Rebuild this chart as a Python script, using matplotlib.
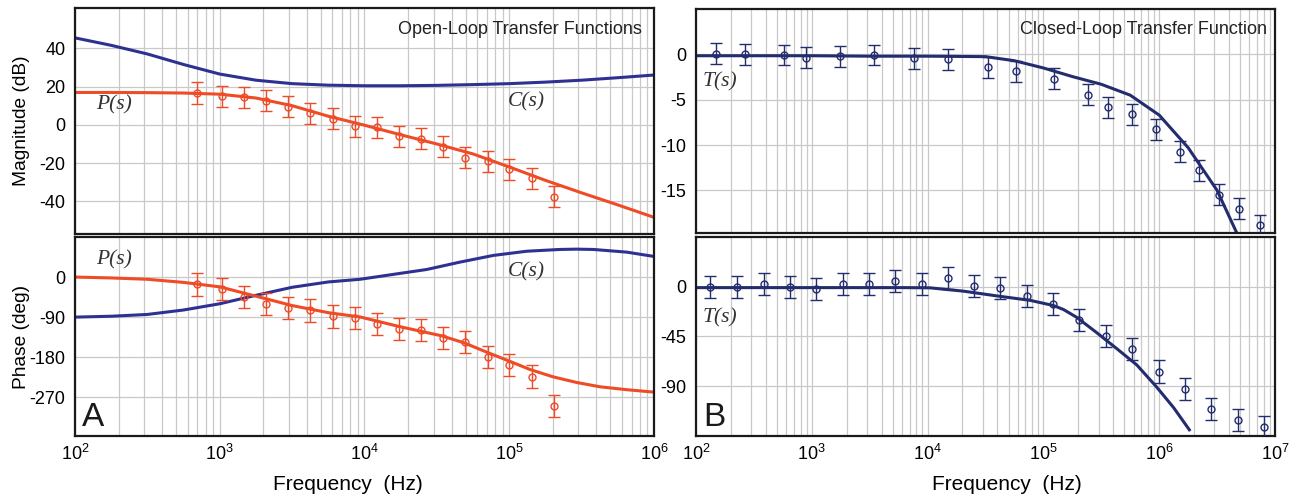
import matplotlib
matplotlib.use("Agg")
import matplotlib.pyplot as plt
from matplotlib.ticker import LogLocator, FixedLocator, NullFormatter
import numpy as np

plt.rcParams['font.family'] = ['Liberation Sans', 'DejaVu Sans']
plt.rcParams['mathtext.fontset'] = 'custom'
plt.rcParams['mathtext.rm'] = 'Liberation Sans'
plt.rcParams['axes.unicode_minus'] = False

RED = '#ee4b26'
BLUE = '#2e3192'
NAVY = '#232d6e'

# ---- Panel A: open-loop curves (samples)
f_mag_a = [1e2, 1.78e2, 3.16e2, 5.62e2, 1e3, 1.78e3, 3.16e3, 5.62e3, 1e4,
           1.78e4, 3.16e4, 5.62e4, 1e5, 1.78e5, 3.16e5, 5.62e5, 1e6]
p_mag = [16.9, 16.9, 16.8, 16.6, 16.0, 14.0, 10.0, 4.5, -0.2,
         -5.2, -10.0, -15.2, -22.0, -29.0, -35.5, -41.8, -48.3]
c_mag = [45.4, 41.5, 37.0, 31.5, 26.5, 23.3, 21.5, 20.7, 20.4,
         20.4, 20.6, 21.0, 21.5, 22.3, 23.3, 24.6, 26.0]

f_pph = [1e2, 1.78e2, 3.16e2, 5.62e2, 1e3, 1.78e3, 3.16e3, 5.62e3, 9.31e3,
         1.71e4, 3.41e4, 4.9e4, 6.9e4, 9.86e4, 1.39e5, 2e5, 2.92e5, 4.24e5,
         6.47e5, 1e6]
p_phase = [0, -2, -5, -12, -22, -43, -64, -80, -89.6, -110.6, -132, -148,
           -168, -188, -207.6, -224, -236.8, -246.5, -253, -258.5]
f_cph = [1e2, 1.78e2, 3.16e2, 5.62e2, 1e3, 1.78e3, 3.16e3, 5.62e3, 9.31e3,
         1.58e4, 2.69e4, 4.57e4, 7.76e4, 1.32e5, 2.24e5, 2.92e5, 3.81e5,
         6.47e5, 1e6]
c_phase = [-90, -88, -84, -74, -60, -41, -23, -11, -5, 6, 17, 33.6, 48.6,
           58, 62, 62.7, 62, 56, 46.3]

# measured plant points
f_meas_a = [693, 1030, 1470, 2090, 2980, 4230, 6040, 8630, 12250, 17230,
            24430, 34670, 49520, 70770, 100300, 143300, 203300]
p_mag_meas = [16.6, 14.8, 14.4, 12.6, 9.4, 6.1, 3.1, -0.7, -1.3, -5.9,
              -7.2, -11.4, -17.1, -19.1, -23.1, -27.9, -37.5]
p_mag_err = 5.5
p_ph_meas = [-16.5, -26, -45, -60, -69, -75, -88.5, -91.5, -105, -117,
             -118.5, -136.5, -146, -180, -197, -223.5, -290]
p_ph_err = 25

# ---- Panel B: closed-loop
f_curve_bm = [1e2, 3.16e2, 1e3, 3.16e3, 1e4, 3.16e4, 5.62e4, 1e5, 1.78e5,
              3.16e5, 5.62e5, 1e6, 1.78e6, 3.16e6, 5e6]
t_mag = [-0.15, -0.15, -0.15, -0.2, -0.2, -0.25, -0.7, -1.5, -2.45,
         -3.3, -4.5, -6.7, -10.3, -15.0, -20.5]
f_curve_bp = [1e2, 1e3, 6.3e3, 1.05e4, 2.04e4, 3.96e4, 7.67e4, 1.22e5,
              1.49e5, 1.94e5, 2.89e5, 4.3e5, 6.41e5, 9.53e5, 1.33e6, 1.82e6]
t_phase = [-0.8, -0.8, -0.8, -1.0, -4.0, -8.3, -12.3, -17, -20.6, -27.7,
           -41.6, -56, -70.8, -90.9, -109.3, -129.4]

f_meas_bm = [149, 266, 570, 887, 1754, 3414, 7620, 14930, 33340, 58480,
             124200, 243700, 364000, 579500, 937800, 1.52e6, 2.21e6,
             3.25e6, 4.93e6, 7.43e6]
t_mag_meas = [0.07, 0, -0.07, -0.37, -0.19, -0.07, -0.44, -0.56, -1.41,
              -1.85, -2.70, -4.44, -5.85, -6.59, -8.26, -10.74, -12.78,
              -15.48, -17.04, -18.81]
t_mag_err = 1.15

f_meas_bp = [132, 227, 383, 646, 1097, 1849, 3097, 5263, 8872, 14850,
             25220, 42560, 71780, 121000, 204200, 344400, 580800, 986500,
             1.663e6, 2.805e6, 4.773e6, 8.05e6]
t_ph_meas = [0, -0.6, 2.1, -0.6, -2.1, 2.4, 2.4, 4.9, 2.1, 7.7, 0.6,
             -0.9, -8.3, -15.4, -29.9, -44.7, -56, -76.7, -92.1, -110.9,
             -120.4, -126.7]
t_ph_err = 10


def style(ax, xlim, ylim, yticks, xlabels):
    ax.set_xscale('log')
    ax.set_xlim(*xlim)
    ax.set_ylim(*ylim)
    ax.xaxis.set_major_locator(LogLocator(base=10, numticks=20))
    ax.xaxis.set_minor_locator(LogLocator(base=10, subs=np.arange(2, 10), numticks=100))
    ax.xaxis.set_minor_formatter(NullFormatter())
    ax.yaxis.set_major_locator(FixedLocator(yticks))
    ax.grid(True, which='both', axis='x', color='#c9c9c9', lw=0.9)
    ax.grid(True, which='major', axis='y', color='#c9c9c9', lw=0.9)
    ax.set_axisbelow(True)
    ax.tick_params(which='both', length=0, labelsize=13, pad=7)
    ax.tick_params(axis='x', pad=6)
    if not xlabels:
        ax.tick_params(axis='x', labelbottom=False)
    for s in ax.spines.values():
        s.set_linewidth(1.6)
        s.set_color('#1a1a1a')


def meas(ax, f, y, err, color):
    ax.errorbar(f, y, yerr=err, fmt='o', ms=5, mfc='none', mec=color,
                mew=1.0, color=color, ecolor=color, elinewidth=1.0,
                capsize=4.5, capthick=1.0, zorder=3)


fig = plt.figure(figsize=(12.93, 4.96), dpi=100)
L, R, W = 0.058, 0.5383, 0.4478
ax1 = fig.add_axes([L, 0.5282, W, 0.4557])
ax2 = fig.add_axes([L, 0.121, W, 0.4012])
ax3 = fig.add_axes([R, 0.5302, W, 0.4516])
ax4 = fig.add_axes([R, 0.121, W, 0.4012])

serif = dict(family=['Liberation Serif'], style='italic', fontsize=15.5, color='#333333')

# A - magnitude
style(ax1, (1e2, 1e6), (-57, 61), [-40, -20, 0, 20, 40], False)
ax1.plot(f_mag_a, c_mag, color=BLUE, lw=2.2, zorder=2)
ax1.plot(f_mag_a, p_mag, color=RED, lw=2.2, zorder=2)
meas(ax1, f_meas_a, p_mag_meas, p_mag_err, RED)
ax1.set_ylabel('Magnitude (dB)', fontsize=13.8)
ax1.yaxis.set_label_coords(-0.077, 0.5)
ax1.text(0.979, 0.903, 'Open-Loop Transfer Functions', transform=ax1.transAxes,
         ha='right', va='center', fontsize=13, color='#222222')
ax1.text(0.036, 0.573, 'P(s)', transform=ax1.transAxes, va='center', **serif)
ax1.text(0.748, 0.586, 'C(s)', transform=ax1.transAxes, va='center', **serif)

# A - phase
style(ax2, (1e2, 1e6), (-357, 90), [-270, -180, -90, 0], True)
ax2.plot(f_cph, c_phase, color=BLUE, lw=2.2, zorder=2)
ax2.plot(f_pph, p_phase, color=RED, lw=2.2, zorder=2)
meas(ax2, f_meas_a, p_ph_meas, p_ph_err, RED)
ax2.set_ylabel('Phase (deg)', fontsize=13.8)
ax2.yaxis.set_label_coords(-0.077, 0.5)
ax2.set_xlabel('Frequency  (Hz)', fontsize=15)
ax2.xaxis.set_label_coords(0.4715, -0.195)
ax2.text(0.036, 0.884, 'P(s)', transform=ax2.transAxes, va='center', **serif)
ax2.text(0.748, 0.824, 'C(s)', transform=ax2.transAxes, va='center', **serif)
ax2.text(0.012, 0.05, 'A', transform=ax2.transAxes, fontsize=24, color='#1a1a1a')

# B - magnitude
style(ax3, (1e2, 1e7), (-19.7, 5), [-15, -10, -5, 0], False)
ax3.plot(f_curve_bm, t_mag, color=NAVY, lw=2.2, zorder=2)
meas(ax3, f_meas_bm, t_mag_meas, t_mag_err, NAVY)
ax3.text(0.986, 0.91, 'Closed-Loop Transfer Function', transform=ax3.transAxes,
         ha='right', va='center', fontsize=13, color='#222222')
ax3.text(0.012, 0.674, 'T(s)', transform=ax3.transAxes, va='center', **serif)

# B - phase
style(ax4, (1e2, 1e7), (-135, 45), [-90, -45, 0], True)
ax4.plot(f_curve_bp, t_phase, color=NAVY, lw=2.2, zorder=2)
meas(ax4, f_meas_bp, t_ph_meas, t_ph_err, NAVY)
ax4.set_xlabel('Frequency  (Hz)', fontsize=15)
ax4.xaxis.set_label_coords(0.537, -0.195)
ax4.text(0.012, 0.593, 'T(s)', transform=ax4.transAxes, va='center', **serif)
ax4.text(0.012, 0.05, 'B', transform=ax4.transAxes, fontsize=24, color='#1a1a1a')

fig.savefig('out.png', dpi=100)
